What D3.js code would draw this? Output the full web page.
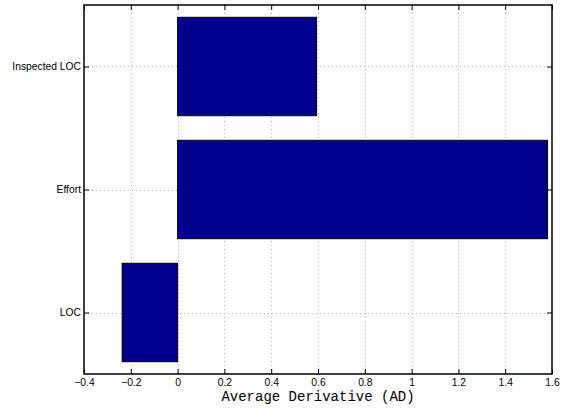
<!DOCTYPE html>
<html>
<head>
<meta charset="utf-8">
<script src="https://cdn.jsdelivr.net/npm/d3@7"></script>
<style>
  body { margin: 0; background: #fff; }
  svg { display: block; }
</style>
</head>
<body>
<div id="vis"></div>
<script>
const categories = ["LOC", "Effort", "Inspected LOC"];
const values = [-0.237, 1.581, 0.594];
const xTicks = [-0.4, -0.2, 0, 0.2, 0.4, 0.6, 0.8, 1, 1.2, 1.4, 1.6];
const xLabel = "Average Derivative (AD)";

const W = 561, H = 414;
const mLeft = 84, mRight = 552, mTop = 5, mBottom = 374;

const svg = d3.select("#vis").append("svg")
    .attr("width", W)
    .attr("height", H);

const x = d3.scaleLinear().domain([-0.4, 1.6]).range([mLeft, mRight]);
// categories sit at 1,2,3 like matlab, ylim 0.5..3.5
const y = d3.scaleLinear().domain([0.5, 3.5]).range([mBottom, mTop]);
const barH = y(0) - y(0.8);

// grid
const grid = svg.append("g").attr("stroke", "#b0b0b0").attr("stroke-width", 1)
    .attr("stroke-dasharray", "1,3");
xTicks.slice(1, -1).forEach(t => {
    grid.append("line")
        .attr("x1", Math.round(x(t)) + 0.5).attr("x2", Math.round(x(t)) + 0.5)
        .attr("y1", mTop).attr("y2", mBottom);
});
categories.forEach((c, i) => {
    grid.append("line")
        .attr("x1", mLeft).attr("x2", mRight)
        .attr("y1", Math.round(y(i + 1)) + 0.5).attr("y2", Math.round(y(i + 1)) + 0.5);
});

// bars
svg.append("g").selectAll("rect")
    .data(values)
    .join("rect")
    .attr("x", d => x(Math.min(0, d)))
    .attr("width", d => Math.abs(x(d) - x(0)))
    .attr("y", (d, i) => y(i + 1) - barH / 2)
    .attr("height", barH)
    .attr("fill", "#00008f")
    .attr("stroke", "#000")
    .attr("stroke-width", 1);

// axes (matlab style, ticks inward on all sides)
const xAxisB = d3.axisBottom(x).tickValues(xTicks).tickSize(-5).tickPadding(5)
    .tickFormat(d => d3.format("")(d).replace("-", "\u2013"));
const gB = svg.append("g").attr("transform", `translate(0,${mBottom})`).call(xAxisB);
const xAxisT = d3.axisTop(x).tickValues(xTicks).tickSize(-5).tickFormat("");
const gT = svg.append("g").attr("transform", `translate(0,${mTop})`).call(xAxisT);

const yAxisL = d3.axisLeft(y).tickValues([1, 2, 3]).tickSize(-5).tickPadding(3)
    .tickFormat(d => categories[d - 1]);
const gL = svg.append("g").attr("transform", `translate(${mLeft},0)`).call(yAxisL);
const yAxisR = d3.axisRight(y).tickValues([1, 2, 3]).tickSize(-5).tickFormat("");
const gR = svg.append("g").attr("transform", `translate(${mRight},0)`).call(yAxisR);

[gB, gT, gL, gR].forEach(g => {
    g.select(".domain").remove();
    g.selectAll("line").attr("stroke", "#000");
    g.selectAll("text")
        .attr("fill", "#000")
        .style("font-family", "'Liberation Sans', Arial, sans-serif")
        .style("font-size", "10.3px");
});

// box
svg.append("rect")
    .attr("x", mLeft).attr("y", mTop)
    .attr("width", mRight - mLeft).attr("height", mBottom - mTop)
    .attr("fill", "none")
    .attr("stroke", "#000")
    .attr("stroke-width", 1.5);

svg.append("text")
    .attr("x", (mLeft + mRight) / 2)
    .attr("y", 401)
    .attr("text-anchor", "middle")
    .style("font-family", "'Liberation Mono', 'Courier New', monospace")
    .style("font-size", "14px")
    .text(xLabel);
</script>
</body>
</html>
